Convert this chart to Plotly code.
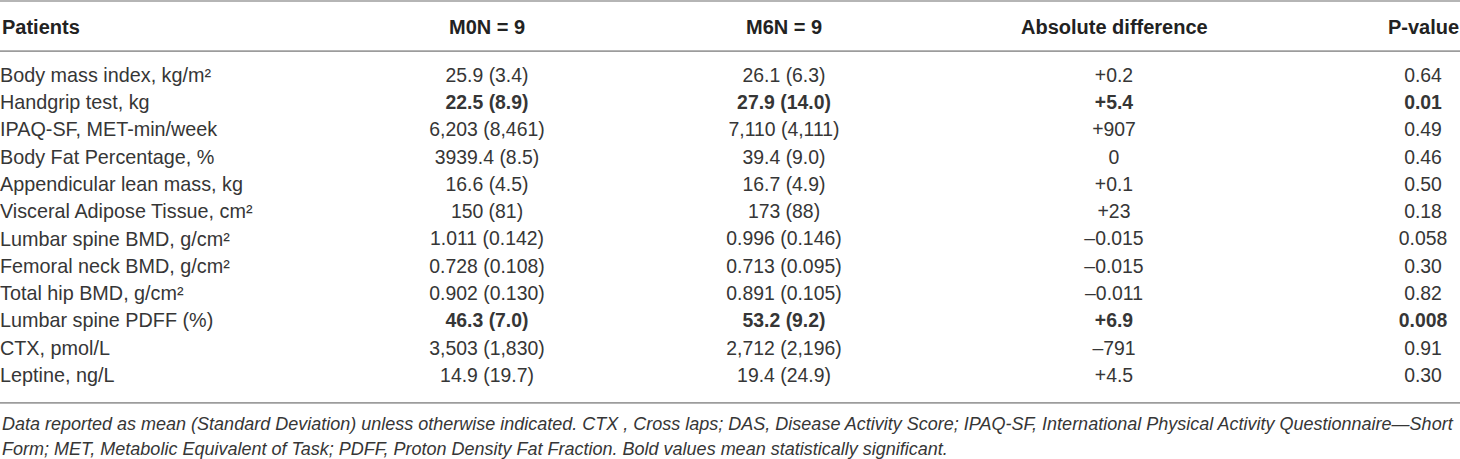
import plotly.graph_objects as go

# table contents
header = ["Patients", "M0N = 9", "M6N = 9", "Absolute difference", "P-value"]

patients = [
    "Body mass index, kg/m²",
    "Handgrip test, kg",
    "IPAQ-SF, MET-min/week",
    "Body Fat Percentage, %",
    "Appendicular lean mass, kg",
    "Visceral Adipose Tissue, cm²",
    "Lumbar spine BMD, g/cm²",
    "Femoral neck BMD, g/cm²",
    "Total hip BMD, g/cm²",
    "Lumbar spine PDFF (%)",
    "CTX, pmol/L",
    "Leptine, ng/L",
]
m0 = ["25.9 (3.4)", "22.5 (8.9)", "6,203 (8,461)", "3939.4 (8.5)", "16.6 (4.5)",
      "150 (81)", "1.011 (0.142)", "0.728 (0.108)", "0.902 (0.130)", "46.3 (7.0)",
      "3,503 (1,830)", "14.9 (19.7)"]
m6 = ["26.1 (6.3)", "27.9 (14.0)", "7,110 (4,111)", "39.4 (9.0)", "16.7 (4.9)",
      "173 (88)", "0.996 (0.146)", "0.713 (0.095)", "0.891 (0.105)", "53.2 (9.2)",
      "2,712 (2,196)", "19.4 (24.9)"]
abs_diff = ["+0.2", "+5.4", "+907", "0", "+0.1", "+23", "–0.015", "–0.015",
            "–0.011", "+6.9", "–791", "+4.5"]
p_value = ["0.64", "0.01", "0.49", "0.46", "0.50", "0.18", "0.058", "0.30",
           "0.82", "0.008", "0.91", "0.30"]
significant = [False, True, False, False, False, False, False, False, False, True, False, False]

footnote = [
    "Data reported as mean (Standard Deviation) unless otherwise indicated. CTX , Cross laps; "
    "DAS, Disease Activity Score; IPAQ-SF, International Physical Activity Questionnaire—Short",
    "Form; MET, Metabolic Equivalent of Task; PDFF, Proton Density Fat Fraction. "
    "Bold values mean statistically significant.",
]

FONT = "Liberation Sans, Arial, Helvetica, sans-serif"
TXT = "#363636"
HEAD = "#222222"
RULE = "#9c9c9c"

col_x = [0, 487, 784, 1114, 1423]   # left edge for first column, centres after
rows = list(range(len(patients)))


def bold(vals):
    return [f"<b>{v}</b>" if s else v for v, s in zip(vals, significant)]


fig = go.Figure()

fig.add_trace(go.Scatter(
    x=[col_x[0]] * len(rows), y=rows, text=patients, mode="text",
    textposition="middle right", textfont=dict(family=FONT, size=19.8, color=TXT),
    hoverinfo="skip"))

for cx, vals in zip(col_x[1:], [m0, m6, abs_diff, p_value]):
    fig.add_trace(go.Scatter(
        x=[cx] * len(rows), y=rows, text=bold(vals), mode="text",
        textposition="middle center", textfont=dict(family=FONT, size=19.4, color=TXT),
        hoverinfo="skip"))

# header
for i, (cx, h) in enumerate(zip(col_x, header)):
    fig.add_annotation(x=cx, y=-1.84, xref="x", yref="y", text=f"<b>{h}</b>",
                       showarrow=False, xanchor="left" if i == 0 else "center",
                       font=dict(family=FONT, size=20, color=HEAD))

# rules
for yy in [-2.79, -0.95, 11.95]:
    fig.add_shape(type="line", xref="paper", yref="y", x0=0, x1=1, y0=yy, y1=yy,
                  line=dict(color=RULE, width=1.6))

# footnote
for k, line in enumerate(footnote):
    fig.add_annotation(x=col_x[0], y=12.73 + 0.92 * k, xref="x", yref="y",
                       text=f"<i>{line}</i>", showarrow=False, xanchor="left",
                       font=dict(family=FONT, size=18, color=TXT))

fig.update_xaxes(range=[0, 1460], visible=False, fixedrange=True)
fig.update_yaxes(range=[14.008, -2.824], visible=False, fixedrange=True)
fig.update_layout(width=1460, height=459, margin=dict(l=0, r=0, t=0, b=0),
                  paper_bgcolor="white", plot_bgcolor="white", showlegend=False)

fig.write_html("out.html", config={"displayModeBar": False},
               post_script="document.body.style.margin='0px';"
                           "document.documentElement.style.overflow='hidden';")
